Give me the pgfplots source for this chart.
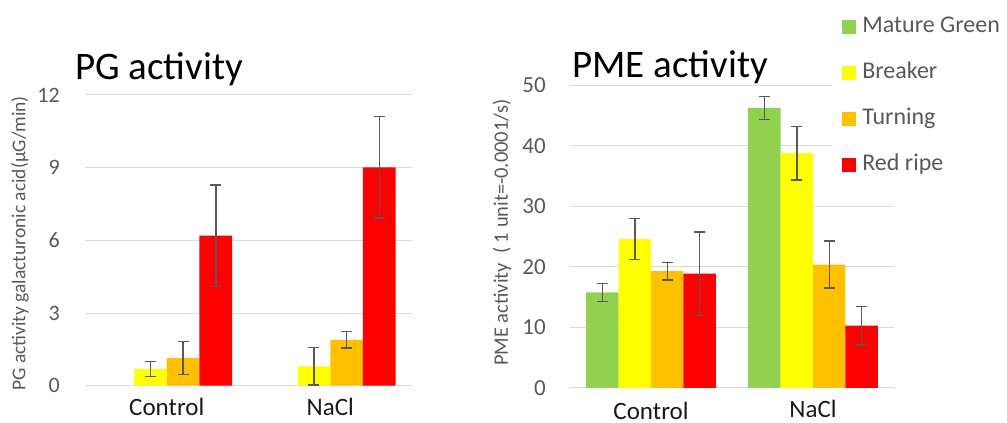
\documentclass[border=0pt]{standalone}
\usepackage{pgfplots}
\pgfplotsset{compat=1.18}
\usepackage{pgfplotstable}
\usepackage{fontspec}
\setmainfont{Carlito}
\definecolor{cgreen}{HTML}{92D050}
\definecolor{cyellow}{HTML}{FFFF00}
\definecolor{corange}{HTML}{FFC000}
\definecolor{cred}{HTML}{FF0000}
\definecolor{gridc}{HTML}{D9D9D9}
\definecolor{txt}{HTML}{595959}

\pgfplotstableread{
x y ey o eo r er
0 0.68 0.31 1.14 0.68 6.19 2.10
1 0.80 0.77 1.89 0.34 9.01 2.09
}\pgdata
\pgfplotstableread{
x g eg y ey o eo r er
0 15.8 1.5 24.6 3.4 19.3 1.45 18.9 6.9
1 46.3 1.9 38.8 4.4 20.4 3.9 10.3 3.2
}\pmedata

\pgfplotsset{
  base/.style={
    ybar, scale only axis, anchor=south west,
    xmin=-0.5, xmax=1.5, xtick={0,1},
    ymajorgrids, grid style={draw=gridc, line width=1pt},
    axis line style={draw=none}, major tick length=0pt,
    tick style={draw=none},
    /pgf/number format/assume math mode=true,
    yticklabel style={text=txt, anchor=east, inner xsep=0pt},
    xticklabel style={anchor=base, text=black!90, font=\fontsize{25}{25}\selectfont, yshift=-30pt, inner ysep=1pt},
  },
  eb/.style={error bars/.cd, y dir=both, y explicit,
    error bar style={line width=1.4pt, draw=txt},
    error mark options={rotate=90, mark size=5.5pt, line width=1.4pt, draw=txt}},
  sq/.style={legend image code/.code={\fill[##1, draw=none] (0pt,-7pt) rectangle (14pt,7pt);}},
}

\begin{document}
\begin{tikzpicture}
\path[use as bounding box] (0pt,0pt) rectangle (1007pt,423pt);

% ---------- PG activity ----------
\begin{axis}[base,
  at={(85pt,37.3pt)}, width=327pt, height=290.7pt,
  ymin=0, ymax=12, ytick={0,3,6,9,12},
  bar width=32.7pt,
  xticklabels={Control,NaCl},
  yticklabel style={font=\fontsize{22}{22}\selectfont, xshift=-25pt},
  ylabel={PG activity galacturonic acid(μG/min)},
  every axis y label/.style={at={(rel axis cs:0,0.5)}, rotate=90, anchor=center, yshift=65pt, xshift=-3pt, text=txt, font=\fontsize{19.5}{19.5}\selectfont},
]
\addplot[fill=cyellow, draw=none, bar shift=-16.35pt, eb] table[x=x, y=y, y error=ey] {\pgdata};
\addplot[fill=corange, draw=none, bar shift=16.35pt, eb] table[x=x, y=o, y error=eo] {\pgdata};
\addplot[fill=cred, draw=none, bar shift=49.05pt, eb] table[x=x, y=r, y error=er] {\pgdata};
\end{axis}
\node[anchor=base west, inner sep=0pt, font=\fontsize{39}{39}\selectfont] at (75pt,343pt) {PG activity};

% ---------- PME activity ----------
\begin{axis}[base,
  at={(570pt,35pt)}, width=324pt, height=302.6pt,
  ymin=0, ymax=50, ytick={0,10,20,30,40,50},
  bar width=32.4pt,
  xticklabels={\raisebox{-2pt}{Control},NaCl},
  yticklabel style={font=\fontsize{23}{23}\selectfont, xshift=-24pt},
  ylabel={PME activity \ ( 1 unit=-0.0001/s)},
  every axis y label/.style={at={(rel axis cs:0,0.5)}, rotate=90, anchor=center, yshift=68pt, xshift=4pt, text=txt, font=\fontsize{20.5}{20.5}\selectfont},
  legend style={at={(0.809,1.257)}, anchor=north west, draw=none, fill=white,
    font=\fontsize{24}{24}\selectfont, text=txt, legend cell align=left,
    row sep=23pt, inner xsep=10pt, inner ysep=8pt,
    nodes={inner ysep=2pt, inner xsep=6pt, text height=15pt, text depth=4pt}},
]
\addplot[fill=cgreen, draw=none, bar shift=-48.6pt, sq, eb] table[x=x, y=g, y error=eg] {\pmedata};
\addlegendentry{Mature Green}
\addplot[fill=cyellow, draw=none, bar shift=-16.2pt, sq, eb] table[x=x, y=y, y error=ey] {\pmedata};
\addlegendentry{Breaker}
\addplot[fill=corange, draw=none, bar shift=16.2pt, sq, eb] table[x=x, y=o, y error=eo] {\pmedata};
\addlegendentry{Turning}
\addplot[fill=cred, draw=none, bar shift=48.6pt, sq, eb] table[x=x, y=r, y error=er] {\pmedata};
\addlegendentry{Red ripe}
\end{axis}
\node[anchor=base west, inner sep=0pt, font=\fontsize{39}{39}\selectfont] at (572pt,345.3pt) {PME activity};
\end{tikzpicture}
\end{document}
